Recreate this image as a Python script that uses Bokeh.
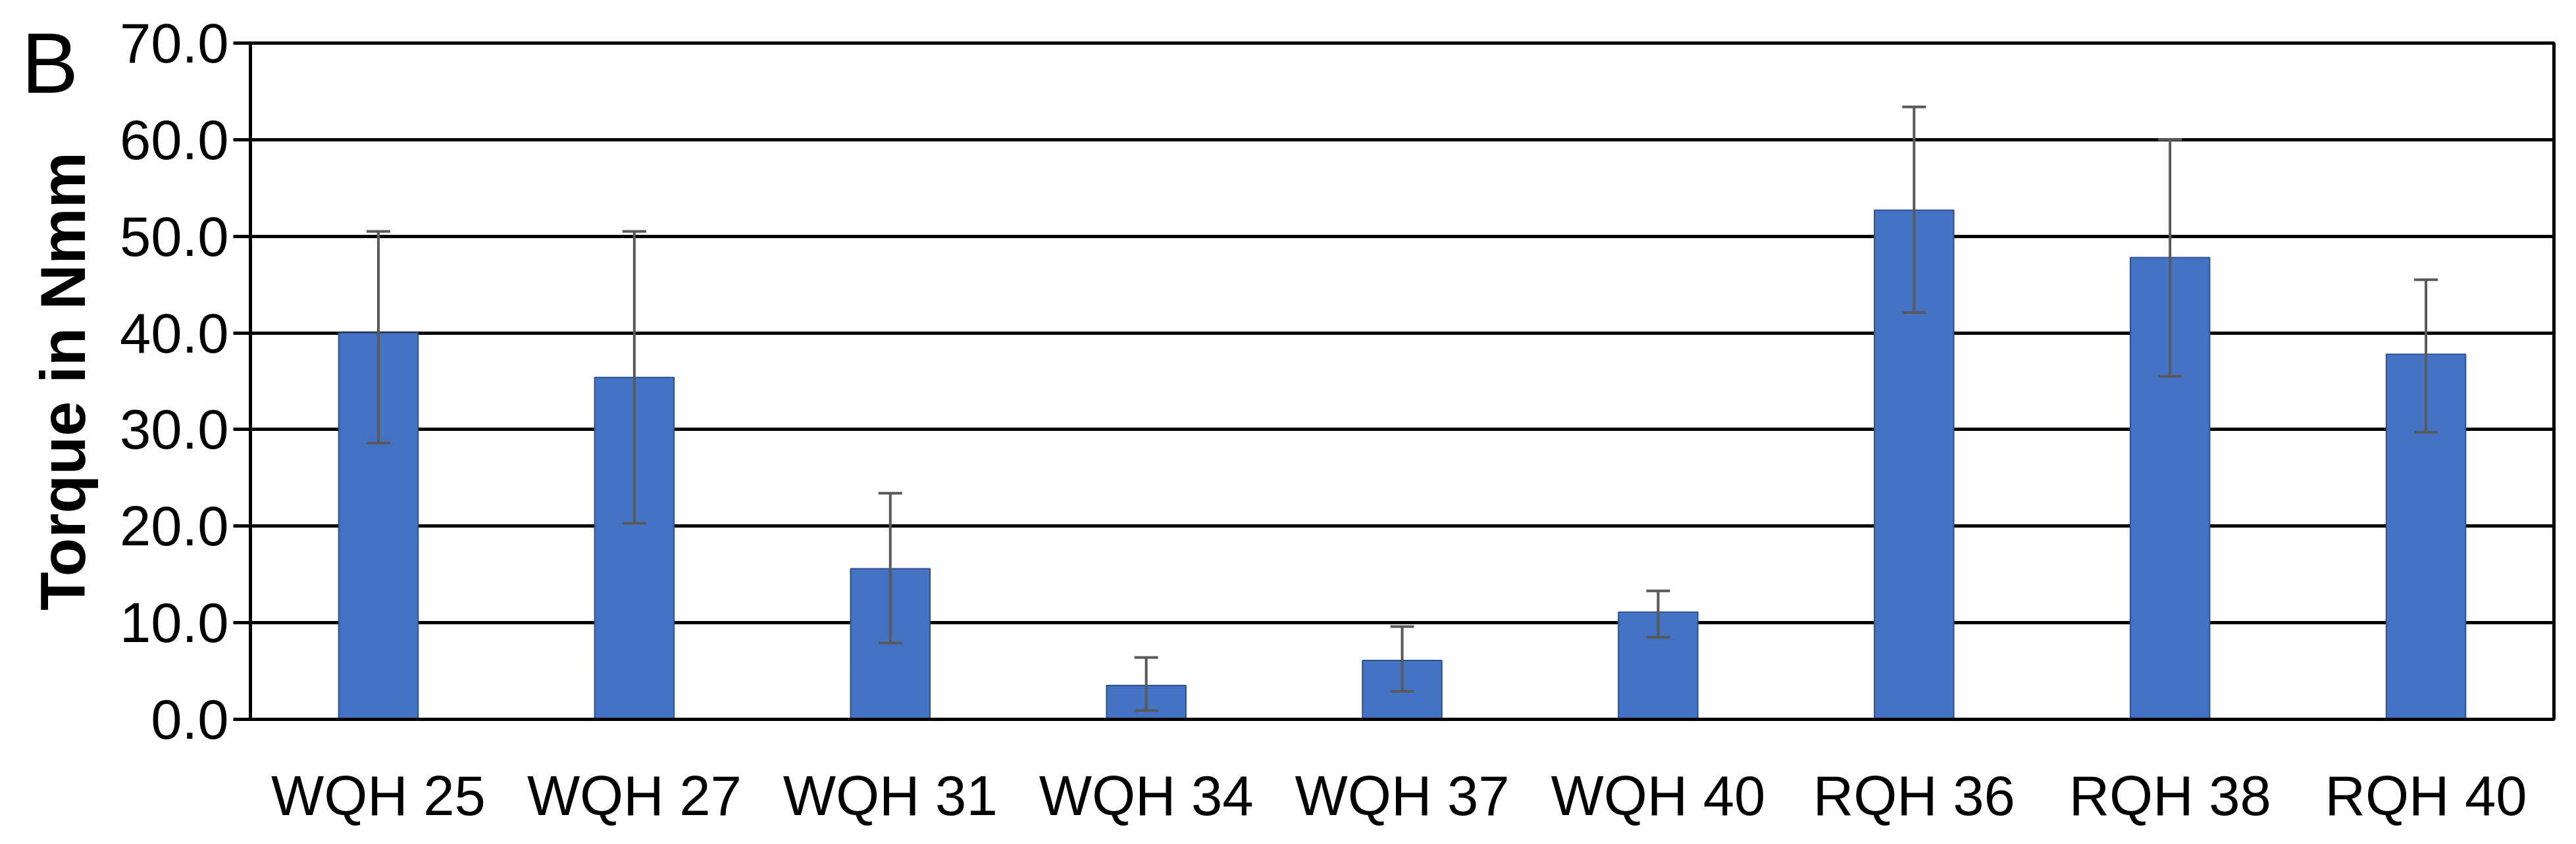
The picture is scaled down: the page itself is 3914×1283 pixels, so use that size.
from bokeh.plotting import figure
from bokeh.models import (ColumnDataSource, FactorRange, Range1d, FixedTicker,
                          NumeralTickFormatter, Whisker, TeeHead, Title)
from bokeh.embed import file_html
from bokeh.resources import INLINE

categories = ["WQH 25", "WQH 27", "WQH 31", "WQH 34", "WQH 37", "WQH 40",
              "RQH 36", "RQH 38", "RQH 40"]
torque = [40.0, 35.4, 15.6, 3.5, 6.1, 11.1, 52.7, 47.8, 37.8]
err_upper = [50.5, 50.5, 23.4, 6.4, 9.6, 13.3, 63.4, 60.0, 45.5]
err_lower = [28.6, 20.3, 7.9, 0.9, 2.9, 8.5, 42.1, 35.5, 29.7]
y_ticks = [0, 10, 20, 30, 40, 50, 60, 70]
panel_letter = "B"

FONT = "Liberation Sans"

src = ColumnDataSource(dict(cat=categories, val=torque, up=err_upper, lo=err_lower))

p = figure(x_range=FactorRange(*categories, range_padding=0),
           y_range=Range1d(0, 70),
           width=3898, height=1267,
           output_backend="svg", toolbar_location=None,
           min_border_left=380, min_border_right=18,
           min_border_top=65, min_border_bottom=174)

p.vbar(x="cat", top="val", bottom=0, width=0.31, source=src,
       fill_color="#4472C4", line_color="#2F528F", line_width=2)

w = Whisker(base="cat", upper="up", lower="lo", source=src,
            line_color="#595959", line_width=4, level="overlay",
            upper_head=TeeHead(size=36, line_color="#595959", line_width=4),
            lower_head=TeeHead(size=36, line_color="#595959", line_width=4))
p.add_layout(w)

# grid
p.xgrid.grid_line_color = None
p.ygrid.grid_line_color = "black"
p.ygrid.grid_line_width = 5
p.ygrid.ticker = FixedTicker(ticks=y_ticks)
p.background_fill_color = "white"
p.outline_line_color = "black"
p.outline_line_width = 5
p.outline_line_alpha = 1.0

# y axis
p.yaxis.ticker = FixedTicker(ticks=y_ticks)
p.yaxis.formatter = NumeralTickFormatter(format="0.0")
p.yaxis.major_tick_out = 26
p.yaxis.major_tick_in = 0
p.yaxis.major_tick_line_width = 5
p.yaxis.major_tick_line_color = "black"
p.yaxis.minor_tick_line_color = None
p.yaxis.axis_line_width = 5
p.yaxis.axis_line_color = "black"
p.yaxis.major_label_text_font = FONT
p.yaxis.major_label_text_font_size = "85px"
p.yaxis.major_label_text_color = "black"
p.yaxis.major_label_standoff = 7
p.yaxis.axis_label = "Torque in Nmm"
p.yaxis.axis_label_text_font = FONT
p.yaxis.axis_label_text_font_size = "96px"
p.yaxis.axis_label_text_font_style = "bold"
p.yaxis.axis_label_text_color = "black"
p.yaxis.axis_label_standoff = 30

# x axis
p.xaxis.major_tick_line_color = None
p.xaxis.minor_tick_line_color = None
p.xaxis.axis_line_width = 5
p.xaxis.axis_line_color = "black"
p.xaxis.major_label_text_font = FONT
p.xaxis.major_label_text_font_size = "85px"
p.xaxis.major_label_text_color = "black"
p.xaxis.major_label_standoff = 62

letter = Title(text=panel_letter, align="left", offset=-348, standoff=-206,
               text_font=FONT, text_font_size="130px", text_font_style="normal",
               text_color="black")
p.add_layout(letter, "above")

open("out.html", "w").write(file_html(p, INLINE))
